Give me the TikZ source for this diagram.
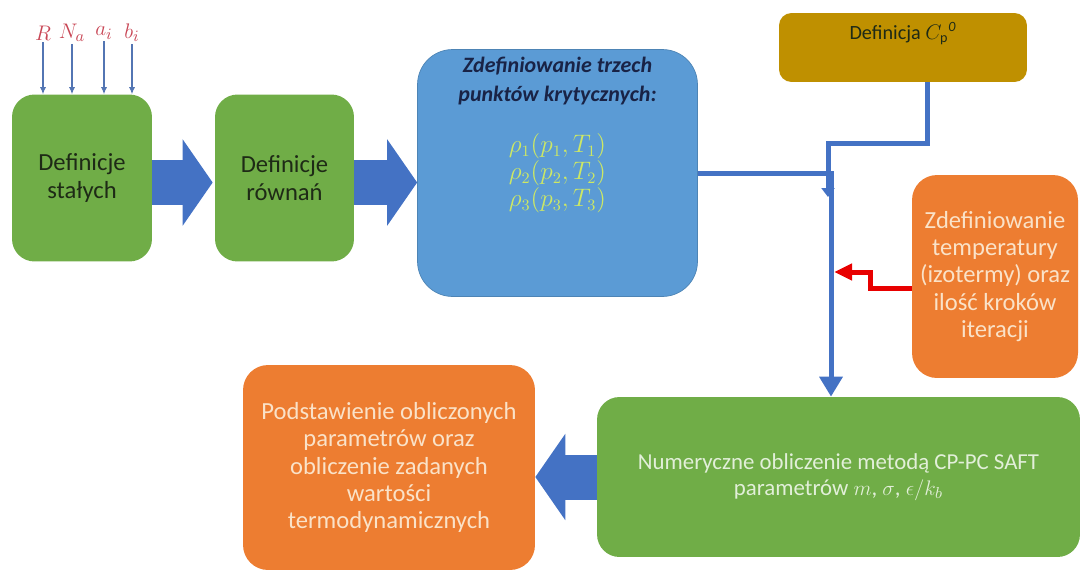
\documentclass[tikz,border=0pt]{standalone}
\usepackage{fontspec}
\setmainfont{Carlito}
\usetikzlibrary{arrows.meta,calc}

\definecolor{boxgreen}{RGB}{112,173,71}
\definecolor{boxblue}{RGB}{91,155,213}
\definecolor{boxorange}{RGB}{237,125,49}
\definecolor{boxgold}{RGB}{191,144,0}
\definecolor{flowblue}{RGB}{68,114,196}
\definecolor{flowred}{RGB}{232,0,0}
\definecolor{darktext}{RGB}{30,42,22}
\definecolor{lighttext}{RGB}{250,226,200}
\definecolor{lightgreen}{RGB}{226,239,217}
\definecolor{navytext}{RGB}{25,35,70}
\definecolor{rhotext}{RGB}{205,232,100}
\definecolor{inputred}{RGB}{200,70,85}

\tikzset{
  block/.style={rectangle, rounded corners=0.45cm, inner sep=2pt, align=center,
    font=\fontsize{14}{15.6}\selectfont},
  greenbox/.style={block, fill=boxgreen, text=darktext},
  orangebox/.style={block, fill=boxorange, text=lighttext, rounded corners=0.5cm},
  flow/.style={draw=flowblue, line width=0.1cm},
  redflow/.style={draw=flowred, line width=0.1cm, -{Triangle[length=0.36cm, width=0.32cm]}},
  bigarrow/.style={draw=flowblue, line width=0.9cm, -{Triangle[length=0.6cm, width=1.7cm]}},
  inarrow/.style={draw=flowblue!75!gray, line width=0.6pt, -{Latex[length=4pt, width=3.5pt]}},
  inlabel/.style={inner sep=1pt, text=inputred, font=\fontsize{13}{15}\selectfont},
}

\begin{document}
\begin{tikzpicture}[x=0.02cm, y=-0.02cm]
    \useasboundingbox (0,0) rectangle (1081,575);

    % Inputs
    \node[inlabel] (lR) at (43,33) {$R$};
    \node[inlabel] (lN) at (72,33) {$N_a$};
    \node[inlabel] (la) at (104,33) {$a_i$};
    \node[inlabel] (lb) at (132,33) {$b_i$};

    % First row
    \node[greenbox, minimum width=2.8cm, minimum height=3.34cm] (stale) at (82,178) {Definicje\\stałych};
    \node[greenbox, minimum width=2.78cm, minimum height=3.34cm] (rownan) at (284.5,178) {Definicje\\równań};
    \node[block, fill=boxblue, draw=boxblue!85!black, line width=0.4pt, rounded corners=0.7cm,
      minimum width=5.6cm, minimum height=4.94cm, text=rhotext, font=\fontsize{13.5}{13.6}\selectfont] (kryt) at (557.5,173)
      {$\rho_1(p_1,T_1)$\\$\rho_2(p_2,T_2)$\\$\rho_3(p_3,T_3)$};
    \node[align=center, text=navytext, font=\bfseries\itshape\fontsize{12.5}{17}\selectfont] (krytTitle) at (557.5,81)
      {Zdefiniowanie trzech\\punktów krytycznych:};

    % Cp
    \node[block, fill=boxgold, rounded corners=0.25cm, minimum width=4.96cm, minimum height=1.38cm,
      text=darktext, font=\fontsize{11.5}{13}\selectfont, text height=8pt, text depth=17pt] (cp) at (903,47.5)
      {Definicja $C_{\mathrm{p}}{}^{\mathit{0}}$};

    % Temperature
    \node[orangebox, minimum width=3.32cm, minimum height=4.06cm] (temp) at (995,276.5)
      {Zdefiniowanie\\temperatury\\(izotermy) oraz\\ilość kroków\\iteracji};

    % Bottom row
    \node[greenbox, text=lightgreen, minimum width=9.66cm, minimum height=3.2cm,
      font=\fontsize{13}{14.5}\selectfont] (numer) at (838.5,477)
      {Numeryczne obliczenie metodą CP-PC SAFT\\parametrów $m$, $\sigma$, $\epsilon/k_b$};
    \node[orangebox, minimum width=5.84cm, minimum height=4.1cm] (podst) at (389,467.5)
      {Podstawienie obliczonych\\parametrów oraz\\obliczenie zadanych\\wartości\\termodynamicznych};

    % Input arrows
    \draw[inarrow] (lR.south) -- (lR.south |- stale.north);
    \draw[inarrow] (lN.south) -- (lN.south |- stale.north);
    \draw[inarrow] (la.south) -- (la.south |- stale.north);
    \draw[inarrow] (lb.south) -- (lb.south |- stale.north);

    % Block arrows
    \draw[bigarrow] ($(stale.east)+(0,4.5)$) -- ($(rownan.west)+(-2,4.5)$);
    \draw[bigarrow] ($(rownan.east)+(0,4.5)$) -- ($(kryt.west)+(0,9.5)$);
    \draw[bigarrow] (numer.west) -- (numer.west -| podst.east);

    % Lines
    \coordinate (merge) at (831,173);
    \coordinate (cpturn) at (927,143);
    \coordinate (cpend) at (828,197);
    \coordinate (redstep) at (870,288);
    \coordinate (redin) at (834,272);
    \draw[flow, -{Triangle[length=0.18cm, width=0.26cm]}] (cp.south -| cpturn) -- (cpturn) -| (cpend);
    \draw[flow, -{Triangle[length=0.4cm, width=0.45cm]}] (kryt.east) -- (merge) -- (merge |- numer.north);
    \draw[redflow] (temp.west |- redstep) -- (redstep) |- (redin);
\end{tikzpicture}
\end{document}
